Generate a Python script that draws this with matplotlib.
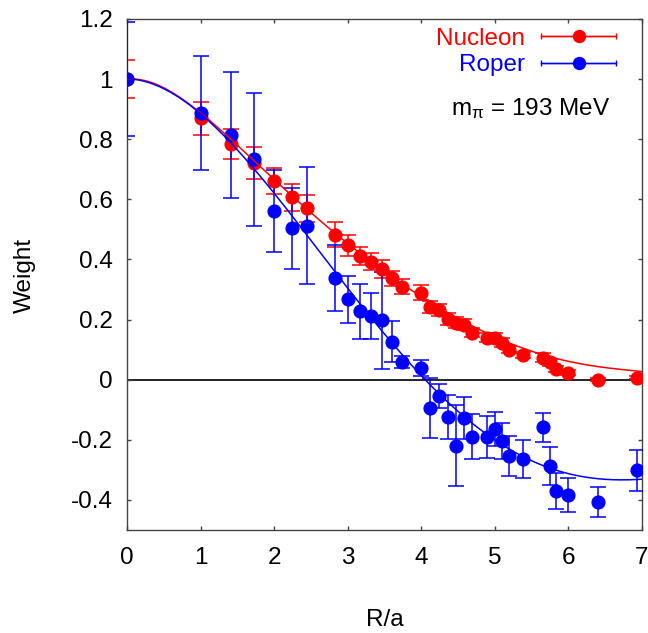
import numpy as np
import matplotlib
matplotlib.use('Agg')
import matplotlib.pyplot as plt
from matplotlib.container import ErrorbarContainer
from matplotlib.legend_handler import HandlerErrorbar

plt.rcParams['font.family'] = ['Liberation Sans', 'DejaVu Sans']
plt.rcParams['mathtext.fontset'] = 'custom'
plt.rcParams['mathtext.rm'] = 'Liberation Sans'
plt.rcParams['mathtext.it'] = 'Liberation Sans'

# lattice distances R/a
R = [0.0, 1.0, 1.414, 1.732, 2.0, 2.236, 2.449, 2.828, 3.0, 3.162, 3.317, 3.464,
     3.606, 3.742, 4.0, 4.123, 4.243, 4.359, 4.472, 4.583, 4.690, 4.899, 5.0,
     5.099, 5.196, 5.385, 5.657, 5.745, 5.831, 6.0, 6.403, 6.928]

nucleon = [1.0, 0.87, 0.785, 0.72, 0.66, 0.607, 0.57, 0.483, 0.447, 0.41,
           0.393, 0.367, 0.337, 0.31, 0.29, 0.243, 0.233, 0.203, 0.19, 0.183,
           0.157, 0.14, 0.14, 0.123, 0.10, 0.083, 0.073, 0.058, 0.037, 0.023,
           0.0, 0.007]
nucleon_err = [0.062, 0.055, 0.05, 0.053, 0.043, 0.045, 0.045, 0.04, 0.035, 0.03,
               0.028, 0.03, 0.025, 0.025, 0.025, 0.02, 0.02, 0.02, 0.018, 0.018,
               0.015, 0.015, 0.015, 0.015, 0.012, 0.01, 0.015, 0.012, 0.01, 0.008,
               0.005, 0.005]

roper = [1.0, 0.886, 0.813, 0.733, 0.561, 0.504, 0.513, 0.339, 0.267, 0.227,
         0.211, 0.197, 0.127, 0.058, 0.04, -0.094, -0.053, -0.124, -0.219, -0.127,
         -0.189, -0.192, -0.164, -0.203, -0.253, -0.264, -0.159, -0.287, -0.37, -0.383,
         -0.406, -0.302]
roper_err = [0.19, 0.19, 0.21, 0.22, 0.135, 0.135, 0.195, 0.11, 0.078, 0.092,
             0.077, 0.16, 0.068, 0.02, 0.027, 0.1, 0.04, 0.073, 0.136, 0.07,
             0.075, 0.07, 0.058, 0.06, 0.067, 0.062, 0.048, 0.064, 0.06, 0.057,
             0.05, 0.067]

# fit curves
fit_r = [0, 0.5, 1, 1.5, 2, 2.5, 3, 3.5, 4, 4.5, 5, 5.5, 6, 6.5, 7]
nucleon_fit = [1.0, 0.97, 0.887, 0.785, 0.66, 0.56, 0.45, 0.36, 0.278, 0.205,
               0.14, 0.095, 0.062, 0.04, 0.027]
roper_fit = [1.0, 0.97, 0.885, 0.77, 0.60, 0.475, 0.315, 0.155, -0.005, -0.105,
             -0.192, -0.268, -0.315, -0.333, -0.33]

FS = 17.5

fig = plt.figure(figsize=(6.48, 6.33), dpi=100)
ax = fig.add_axes([127 / 648, 1 - 530 / 633, 515 / 648, 511 / 633])

ax.axhline(0, color='black', lw=1.2, zorder=1)

rr = np.linspace(0, 7, 300)
series = [(nucleon, nucleon_err, nucleon_fit, 'red', 'Nucleon'),
          (roper, roper_err, roper_fit, 'blue', 'Roper')]
handles = []
for vals, errs, fit, col, lab in series:
    ax.errorbar(R, vals, yerr=errs, fmt='o', color=col, ms=9.2, elinewidth=1.1,
                capsize=5.7, capthick=1.1, zorder=3)
    coef = np.polyfit(fit_r, fit, 6)
    ax.plot(rr, np.polyval(coef, rr), color=col, lw=1.1, zorder=4)
    h = ax.errorbar([np.nan], [np.nan], xerr=[np.nan], fmt='-o', color=col, ms=8.6,
                    elinewidth=1.0, lw=1.0, capsize=2.5, label=lab)
    handles.append(h)

leg = ax.legend(handles=handles, loc='upper right', bbox_to_anchor=(0.95, 0.983),
                frameon=False, markerfirst=False, labelcolor='linecolor', fontsize=FS,
                handlelength=3.1, handletextpad=0.65, labelspacing=0.18,
                borderpad=0, borderaxespad=0,
                handler_map={ErrorbarContainer: HandlerErrorbar(xerr_size=1.55)})

ax.text(0.938, 0.812, r'm$_{\pi}$ = 193 MeV', transform=ax.transAxes,
        ha='right', va='baseline', fontsize=FS)

ax.set_xlim(0, 7)
ax.set_ylim(-0.5, 1.2)
ax.set_xticks(range(0, 8))
ax.set_yticks([-0.4, -0.2, 0, 0.2, 0.4, 0.6, 0.8, 1, 1.2])
ax.set_yticklabels(['-0.4', '-0.2', '0', '0.2', '0.4', '0.6', '0.8', '1', '1.2'])
ax.tick_params(direction='in', length=3.2, width=1, top=True, right=True,
               labelsize=FS, color='#444444')
ax.tick_params(axis='x', pad=12)
ax.tick_params(axis='y', pad=10.5)
for s in ax.spines.values():
    s.set_linewidth(1)
    s.set_color('#444444')

fig.text(25 / 648, 1 - 275 / 633, 'Weight', rotation=90, ha='center', va='center', fontsize=FS)
fig.text(385 / 648, 1 - 620 / 633, 'R/a', ha='center', va='center', fontsize=FS)

fig.savefig('out.png', dpi=100)
